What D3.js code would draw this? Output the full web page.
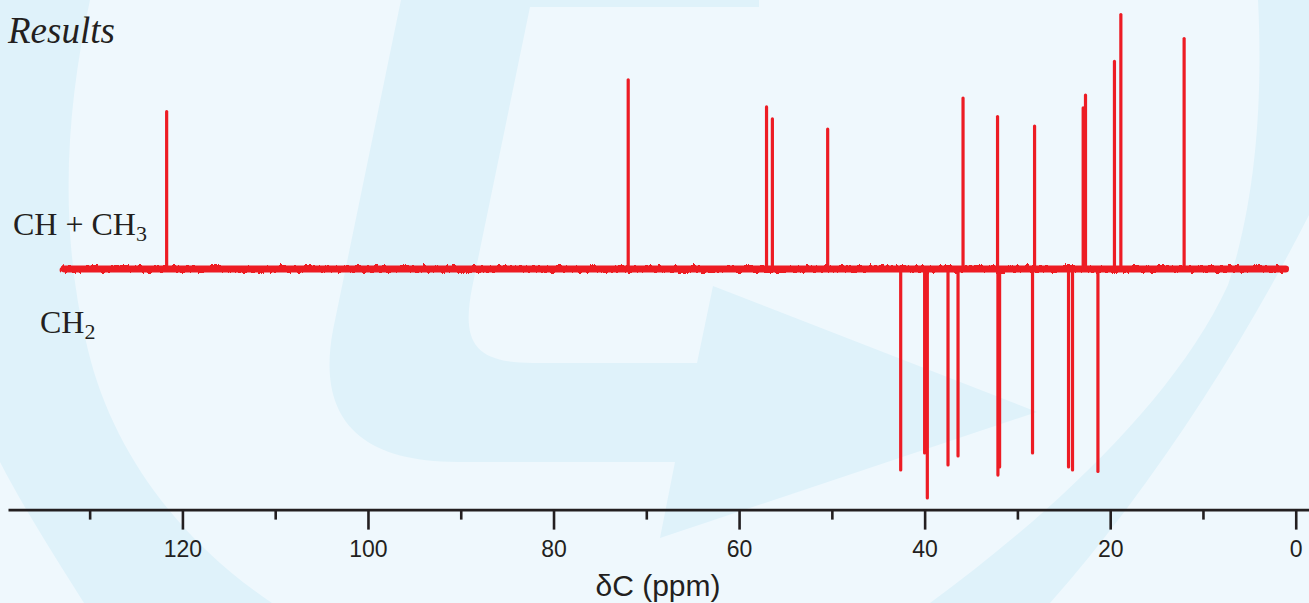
<!DOCTYPE html>
<html>
<head>
<meta charset="utf-8">
<title>DEPT-135 Results</title>
<script src="https://cdn.jsdelivr.net/npm/d3@7"></script>
<style>
	html, body { margin: 0; padding: 0; background: #eff8fd; }
	svg { display: block; }
</style>
</head>
<body>
<svg id="dept-chart" width="1309" height="603"></svg>
<script>
(function(){
	'use strict';

	// positive peaks (CH + CH3), ppm and relative intensity
	var upPpm = [121.7, 71.95, 57.04, 56.41, 50.45, 35.86, 32.14, 28.15, 22.91, 22.66, 19.54, 18.85, 12.03];
	var upInt = [61.9, 74.4, 63.7, 59.0, 55.0, 67.2, 59.9, 56.2, 63.3, 68.4, 81.6, 100, 90.6];

	// negative peaks (CH2)
	var downPpm = [42.58, 40.00, 39.71, 37.48, 36.40, 32.10, 31.92, 28.37, 24.49, 24.06, 21.32];
	var downInt = [-79.0, -72.3, -90.0, -77.0, -73.5, -81.0, -77.8, -72.3, -77.8, -79.0, -79.6];

	// spectrum limits
	var specRange = [132.7, 1.1];

	var majorTicks = [120, 100, 80, 60, 40, 20, 0];
	var minorTicks = [130, 110, 90, 70, 50, 30, 10];

	var red = '#ed1c24';
	var ink = '#231f20';

	var svg = d3.select('#dept-chart');

	// ---- background logo ----
	var bg = svg.append('g').attr('class', 'bg');
	bg.append('rect').attr('width', 1309).attr('height', 603).attr('fill', '#eff8fd');
	var shade = '#dff2fa';
	bg.append('path').attr('fill', shade)
		.attr('d', 'M0,0 L90,0 C66,110 58,230 88,350 C112,450 178,540 272,603 L84,603 C52,552 22,505 0,462 Z');
	bg.append('path').attr('fill', shade)
		.attr('d', 'M1258,0 L1309,0 L1309,215 C1240,350 1150,490 1050,603 L930,603 C1050,515 1175,400 1228,285 C1256,200 1263,100 1258,0 Z');
	bg.append('path').attr('fill', shade)
		.attr('d', 'M401,0 L759,0 L759,7 L530,7 L472,288 C462,340 472,363 533,363 L697,363 L713,286 L1037,412 L660,538 L675,462 L458,462 C350,462 318,410 333,330 Z');

	// ---- scales ----
	var x = d3.scaleLinear().domain([138.8, -1.43]).range([8, 1309]);
	var y = d3.scaleLinear().domain([-100, 100]).range([523.4, 14.6]);

	// ---- noise filter for the thick baseline ----
	var defs = svg.append('defs');
	var f = defs.append('filter').attr('id', 'rough')
		.attr('filterUnits', 'userSpaceOnUse')
		.attr('x', 0).attr('y', y(0) - 20).attr('width', 1309).attr('height', 40);
	f.append('feTurbulence')
		.attr('type', 'fractalNoise')
		.attr('baseFrequency', '0.3 0.002')
		.attr('numOctaves', 2)
		.attr('seed', 7)
		.attr('result', 'noise');
	f.append('feDisplacementMap')
		.attr('in', 'SourceGraphic')
		.attr('in2', 'noise')
		.attr('scale', 8)
		.attr('xChannelSelector', 'R')
		.attr('yChannelSelector', 'G');

	// ---- axis ----
	var axisG = svg.append('g')
		.attr('transform', 'translate(0,' + 509.6 + ')');

	axisG.append('g')
		.call(d3.axisBottom(x).tickValues(minorTicks).tickSize(10).tickSizeOuter(0).tickFormat(''))
		.call(function(g){ g.select('.domain').remove(); });

	axisG.append('g')
		.call(d3.axisBottom(x).tickValues(majorTicks).tickSize(20).tickSizeOuter(0).tickPadding(11).tickFormat(d3.format('d')));

	axisG.selectAll('path, line')
		.attr('stroke', ink)
		.attr('stroke-width', 2.6);
	axisG.selectAll('text')
		.attr('fill', ink)
		.attr('font-family', '"Liberation Sans", Arial, sans-serif')
		.attr('font-size', 23);

	svg.append('text')
		.attr('x', 658)
		.attr('y', 596)
		.attr('text-anchor', 'middle')
		.attr('fill', ink)
		.attr('font-family', '"Liberation Sans", Arial, sans-serif')
		.attr('font-size', 30)
		.text('δC (ppm)');

	// ---- spectrum ----
	var spec = svg.append('g').attr('class', 'spectrum');

	// solid core of the noisy baseline
	spec.append('line')
		.attr('x1', x(specRange[0]))
		.attr('x2', x(specRange[1]))
		.attr('y1', y(0))
		.attr('y2', y(0))
		.attr('stroke', red)
		.attr('stroke-width', 7)
		.attr('stroke-linecap', 'round');

	// ragged edge on top of it
	spec.append('line')
		.attr('x1', x(specRange[0]))
		.attr('x2', x(specRange[1]))
		.attr('y1', y(0))
		.attr('y2', y(0))
		.attr('stroke', red)
		.attr('stroke-width', 6)
		.attr('stroke-linecap', 'round')
		.attr('filter', 'url(#rough)');

	var peaks = upPpm.map(function(p, i){ return { ppm: p, v: upInt[i] }; })
		.concat(downPpm.map(function(p, i){ return { ppm: p, v: downInt[i] }; }));

	spec.selectAll('line.peak')
		.data(peaks)
		.enter()
		.append('line')
			.attr('class', 'peak')
			.attr('x1', (d) => x(d.ppm))
			.attr('x2', (d) => x(d.ppm))
			.attr('y1', y(0))
			.attr('y2', (d) => y(d.v))
			.attr('stroke', red)
			.attr('stroke-width', 3.2)
			.attr('stroke-linecap', 'round');

	// ---- labels ----
	svg.append('text')
		.attr('x', 8)
		.attr('y', 43)
		.attr('fill', ink)
		.attr('font-family', '"Liberation Serif", "Times New Roman", serif')
		.attr('font-style', 'italic')
		.attr('font-size', 37)
		.text('Results');

	var serif = '"Liberation Serif", "Times New Roman", serif';

	var t1 = svg.append('text')
		.attr('x', 13)
		.attr('y', 235)
		.attr('fill', ink)
		.attr('font-family', serif)
		.attr('font-size', 32);
	t1.append('tspan').text('CH + CH');
	t1.append('tspan').attr('dy', 6).attr('font-size', 22).text('3');

	var t2 = svg.append('text')
		.attr('x', 40)
		.attr('y', 333)
		.attr('fill', ink)
		.attr('font-family', serif)
		.attr('font-size', 32);
	t2.append('tspan').text('CH');
	t2.append('tspan').attr('dy', 6).attr('font-size', 22).text('2');

})();
</script>
</body>
</html>
